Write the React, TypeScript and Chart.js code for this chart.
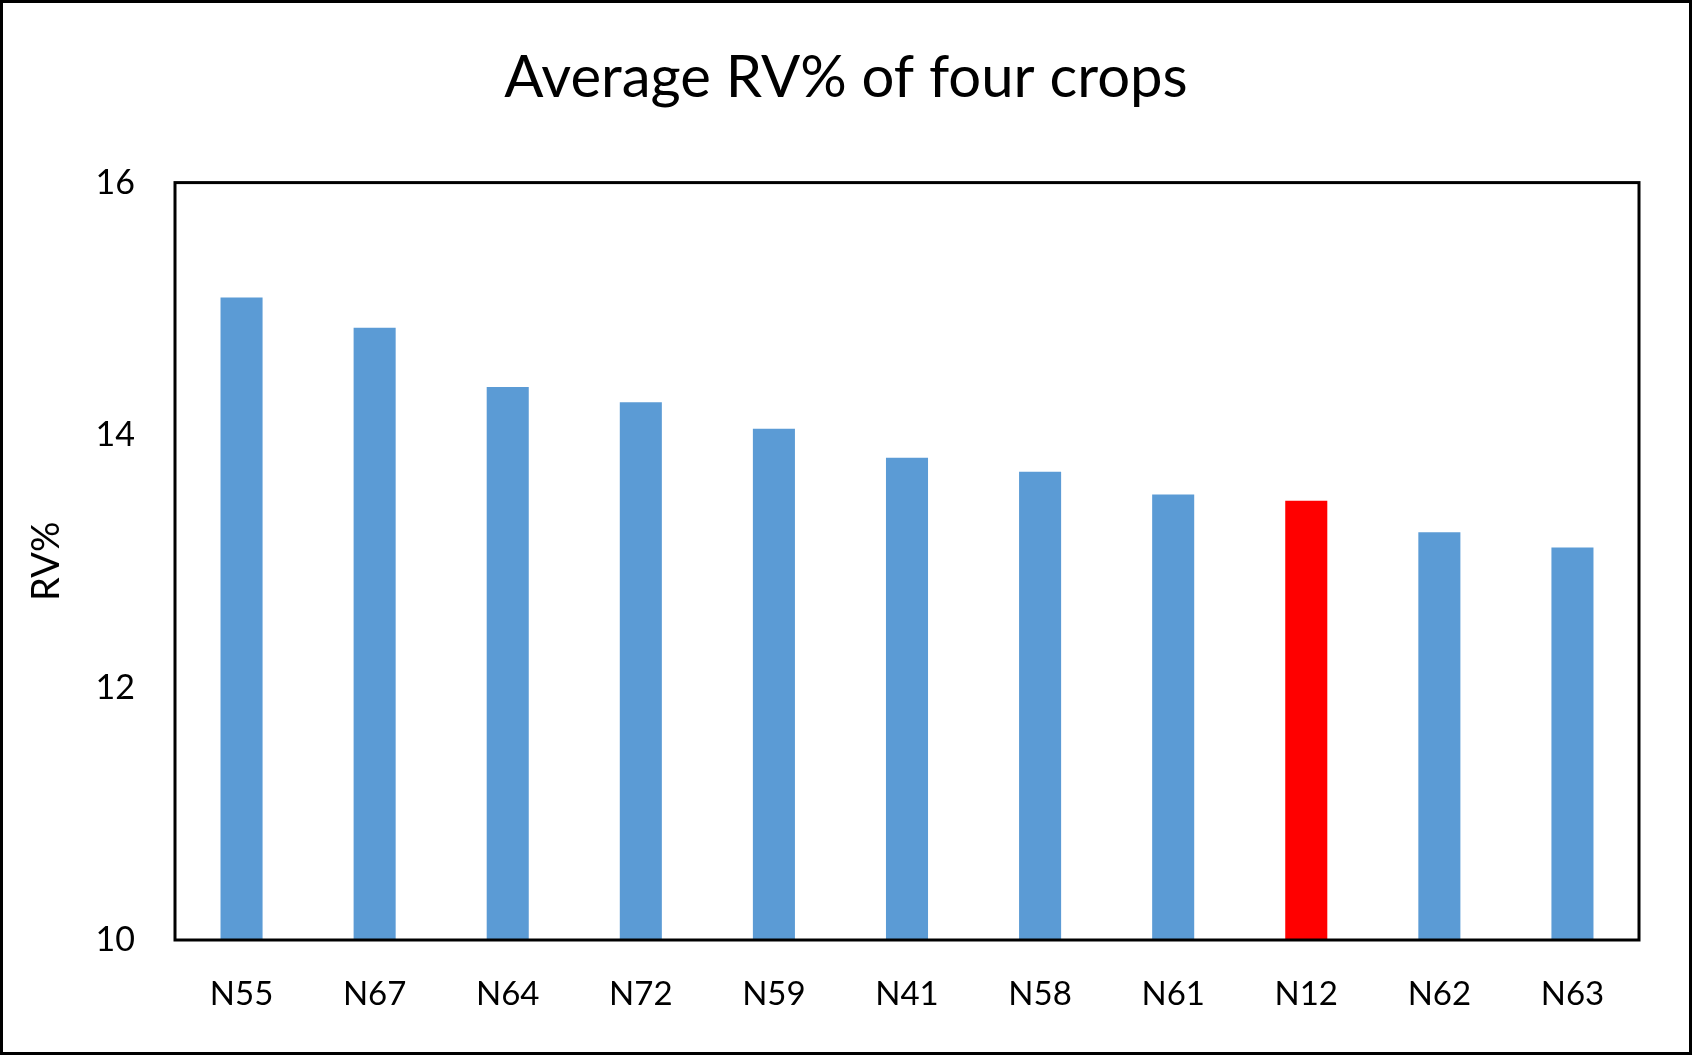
import React, { useEffect, useRef } from "react";
import { Chart, registerables } from "chart.js";

Chart.register(...registerables);

const categories = ["N55", "N67", "N64", "N72", "N59", "N41", "N58", "N61", "N12", "N62", "N63"];
const rvValues = [15.09, 14.85, 14.38, 14.26, 14.05, 13.82, 13.71, 13.53, 13.48, 13.23, 13.11];
const highlighted = ["N12"];
const yTicks = [10, 12, 14, 16];

const BLUE = "#5B9BD5";
const RED = "#FF0000";
const FONT = "Lato, 'Open Sans', sans-serif";

const framePlugin = {
  id: "frame",
  afterDatasetsDraw(chart: any) {
    const { ctx, chartArea } = chart;
    ctx.save();
    ctx.strokeStyle = "#000";
    ctx.lineWidth = 3;
    ctx.strokeRect(chartArea.left, chartArea.top, chartArea.right - chartArea.left, chartArea.bottom - chartArea.top);
    ctx.restore();
  },
};

export default function App() {
  const ref = useRef<HTMLCanvasElement | null>(null);

  useEffect(() => {
    document.body.style.margin = "0";
    if (!ref.current) return;
    const chart = new Chart(ref.current, {
      type: "bar",
      data: {
        labels: categories,
        datasets: [
          {
            label: "RV%",
            data: rvValues,
            backgroundColor: categories.map((c) => (highlighted.includes(c) ? RED : BLUE)),
            borderWidth: 0,
            categoryPercentage: 1,
            barPercentage: 0.316,
          },
        ],
      },
      options: {
        animation: false,
        responsive: false,
        devicePixelRatio: 1,
        layout: { padding: 0 },
        plugins: {
          legend: { display: false },
          tooltip: { enabled: false },
          title: {
            display: true,
            text: "Average RV% of four crops",
            color: "#000",
            font: { family: FONT, size: 58, weight: "normal" },
            padding: { top: 40, bottom: 70 },
          },
        },
        scales: {
          x: {
            grid: { display: false, drawTicks: false },
            border: { display: false },
            ticks: {
              color: "#000",
              font: { family: FONT, size: 33 },
              padding: 35,
              maxRotation: 0,
              autoSkip: false,
            },
            afterFit: (scale: any) => {
              scale.height = 112;
            },
          },
          y: {
            min: 10,
            max: 16,
            grid: { display: false, drawTicks: false },
            border: { display: false },
            afterBuildTicks: (scale: any) => {
              scale.ticks = yTicks.map((v) => ({ value: v }));
            },
            ticks: {
              color: "#000",
              font: { family: FONT, size: 34 },
              padding: 40,
            },
            title: {
              display: true,
              text: "RV%",
              color: "#000",
              font: { family: FONT, size: 38 },
              padding: { top: 21, bottom: 0 },
            },
            afterFit: (scale: any) => {
              scale.width = 172;
            },
          },
          spacer: {
            type: "linear",
            position: "right",
            min: 10,
            max: 16,
            grid: { display: false, drawTicks: false },
            border: { display: false },
            ticks: { display: false },
            afterFit: (scale: any) => {
              scale.width = 50;
            },
          },
        },
      },
      plugins: [framePlugin],
    });
    return () => chart.destroy();
  }, []);

  return (
    <div
      style={{
        position: "absolute",
        left: 0,
        top: 0,
        width: 1692,
        height: 1055,
        boxSizing: "border-box",
        border: "3px solid #000",
        background: "#fff",
      }}
    >
      <canvas ref={ref} width={1686} height={1049} style={{ display: "block" }} />
    </div>
  );
}
